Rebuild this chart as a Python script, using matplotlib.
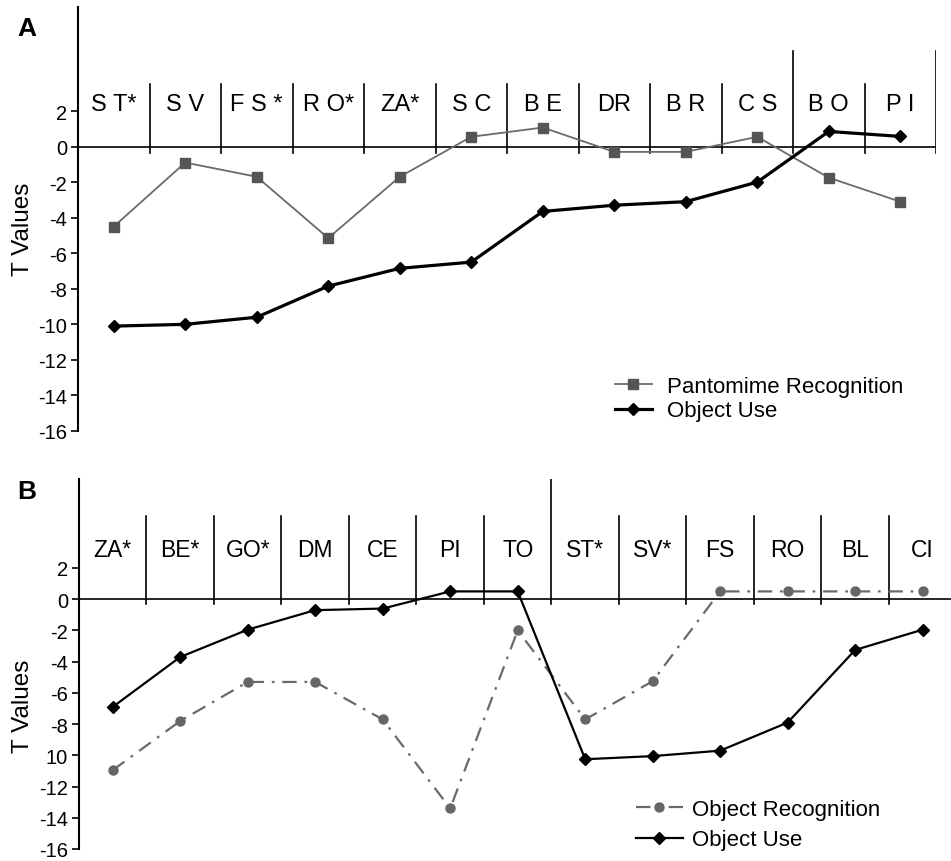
import matplotlib
matplotlib.use("Agg")
import matplotlib.pyplot as plt
import numpy as np

plt.rcParams['font.family'] = ['Liberation Sans', 'DejaVu Sans']

# ---- Panel A data ----
cats_a = ['S T*', 'S V', 'F S *', 'R O*', 'ZA*', 'S C', 'B E', 'DR', 'B R', 'C S', 'B O', 'P I']
pantomime_a = [-4.5, -0.9, -1.7, -5.15, -1.7, 0.55, 1.07, -0.3, -0.3, 0.55, -1.75, -3.1]
objuse_a = [-10.1, -10.0, -9.6, -7.85, -6.85, -6.5, -3.65, -3.3, -3.1, -2.0, 0.85, 0.57]

# ---- Panel B data ----
cats_b = ['ZA*', 'BE*', 'GO*', 'DM', 'CE', 'PI', 'TO', 'ST*', 'SV*', 'FS', 'RO', 'BL', 'CI']
objrec_b = [-10.95, -7.8, -5.3, -5.3, -7.7, -13.4, -2.0, -7.7, -5.25, 0.5, 0.5, 0.5, 0.5]
objuse_b = [-6.9, -3.7, -1.95, -0.7, -0.6, 0.5, 0.5, -10.25, -10.05, -9.7, -7.9, -3.25, -1.95]

yticks = [-16, -14, -12, -10, -8, -6, -4, -2, 0, 2]
yticklabels_a = ['-16', '-14', '-12', '-10', '-8', '-6', '-4', '-2', '0', '2']
yticklabels_b = ['-16', '-14', '-12', '10', '-8', '-6', '-4', '-2', '0', '2']

W, H = 951, 862
fig = plt.figure(figsize=(W / 100, H / 100), dpi=100)

def px_axes(l, r, t, b):
    return fig.add_axes([l / W, 1 - b / H, (r - l) / W, (b - t) / H])

axA = px_axes(78, 936, 8, 432)
axB = px_axes(79, 951, 480, 850)

def style(ax, xmax, ytop, labels):
    ax.set_xlim(0, xmax)
    ax.set_ylim(-16, ytop)
    for s in ['top', 'right', 'bottom']:
        ax.spines[s].set_visible(False)
    ax.spines['left'].set_linewidth(1.5)
    ax.spines['left'].set_bounds(-16, ytop)
    ax.set_xticks([])
    ax.set_yticks(yticks)
    ax.set_yticklabels(labels)
    ax.tick_params(axis='y', direction='out', length=5, width=1.2, pad=3, labelsize=14.5)
    ax.axhline(0, color='black', lw=1.2, zorder=1)
    ax.patch.set_alpha(0)

# Panel A
style(axA, 12, 7.85, yticklabels_a)
xa = np.arange(len(cats_a)) + 0.5
for i in range(1, 13):
    top = 5.37 if i in (10, 12) else 3.5
    axA.plot([i, i], [-0.34, top], color='black', lw=1.2, zorder=1)
for x, lab in zip(xa, cats_a):
    axA.text(x, 2.37, lab, ha='center', va='center', fontsize=17)
axA.plot(xa, pantomime_a, color='#6a6a6a', lw=1.3, marker='s', ms=7,
         mfc='#555555', mec='#555555', label='Pantomime Recognition', zorder=3)
axA.plot(xa, objuse_a, color='black', lw=2.3, marker='D', ms=6.5,
         label='Object Use', zorder=4)
axA.legend(loc='upper left', bbox_to_anchor=(615 / W, 1 - 377 / H),
           bbox_transform=fig.transFigure, frameon=False, fontsize=16,
           borderpad=0, borderaxespad=0, handlelength=1.65, handletextpad=0.7,
           labelspacing=0.15)

# Panel B
style(axB, 12.92, 7.7, yticklabels_b)
xb = np.arange(len(cats_b)) + 0.5
for i in range(1, 13):
    top = 7.7 if i == 7 else 5.3
    axB.plot([i, i], [-0.32, top], color='black', lw=1.2, zorder=1)
for x, lab in zip(xb, cats_b):
    axB.text(x, 3.2, lab, ha='center', va='center', fontsize=16.5)
axB.plot(xb, objrec_b, color='#6a6a6a', lw=1.6, ls=(0, (6.5, 3.5, 1.2, 3.5)),
         marker='o', ms=6.5, mfc='#666666', mec='#666666',
         label='Object Recognition', zorder=3)
axB.plot(xb, objuse_b, color='black', lw=1.6, marker='D', ms=6.5,
         label='Object Use', zorder=4)
axB.legend(loc='upper left', bbox_to_anchor=(636 / W, 1 - 800 / H),
           bbox_transform=fig.transFigure, frameon=False, fontsize=16,
           borderpad=0, borderaxespad=0, handlelength=2.1, handletextpad=0.4,
           labelspacing=0.42)

# Panel letters and y labels
fig.text(27 / W, 1 - 29 / H, 'A', fontsize=19, fontweight='bold', ha='center', va='center')
fig.text(27 / W, 1 - 492 / H, 'B', fontsize=19, fontweight='bold', ha='center', va='center')
fig.text(23 / W, 1 - 229 / H, 'T Values', fontsize=17.5, rotation=90, ha='center', va='center')
fig.text(23 / W, 1 - 706 / H, 'T Values', fontsize=17.5, rotation=90, ha='center', va='center')

fig.savefig('out.png', dpi=100)
